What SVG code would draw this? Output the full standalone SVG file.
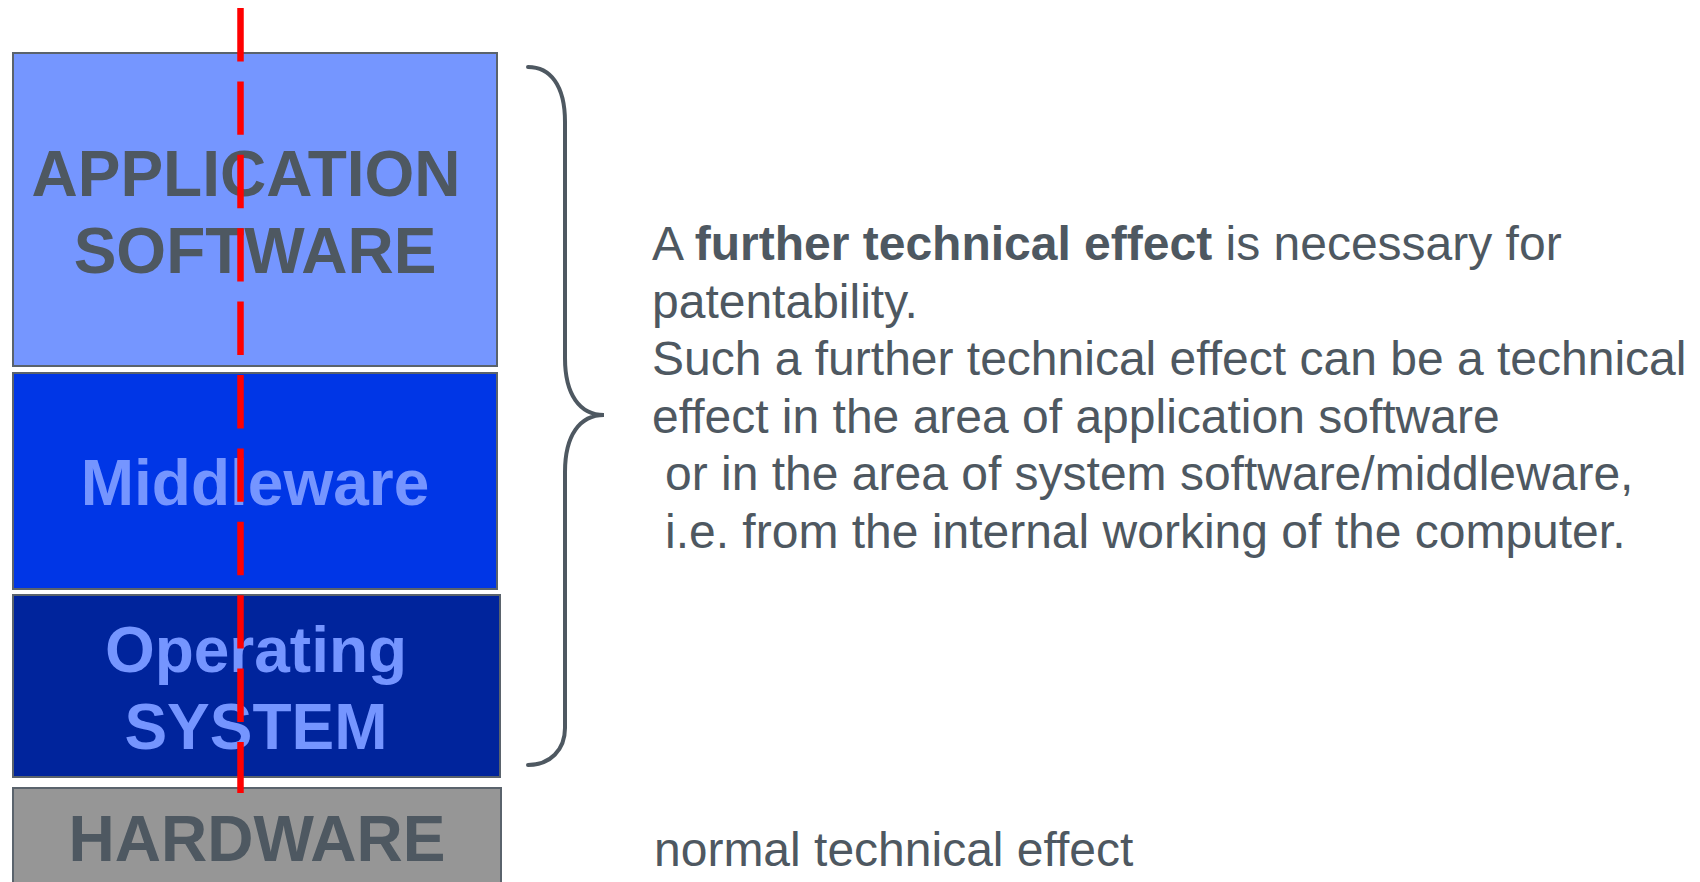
<svg xmlns="http://www.w3.org/2000/svg" width="1700" height="882" viewBox="0 0 1700 882">
<style>
.box{stroke:#5a636c;stroke-width:2}
.lbl{font-family:"Liberation Sans",Arial,Helvetica,sans-serif;font-weight:bold;font-size:64px;text-anchor:middle}
.dark{fill:#4e5861}
.light{fill:#7595ff}
.body{font-family:"Liberation Sans",Arial,Helvetica,sans-serif;font-size:48px;fill:#4e5861}
</style>
<rect width="1700" height="882" fill="#ffffff"/>
<g id="app">
<rect class="box" x="13" y="53" width="484" height="313" fill="#7596ff"/>
<text class="lbl dark" x="246" y="196">APPLICATION</text>
<text class="lbl dark" x="255" y="273">SOFTWARE</text>
</g>
<g id="middleware">
<rect class="box" x="13" y="373" width="484" height="216" fill="#0036e6"/>
<text class="lbl light" x="255" y="505">Middleware</text>
</g>
<g id="os">
<rect class="box" x="13" y="595" width="487" height="182" fill="#00249c"/>
<text class="lbl light" x="256" y="672">Operating</text>
<text class="lbl light" x="256" y="749">SYSTEM</text>
</g>
<g id="hardware">
<rect class="box" x="13" y="788" width="488" height="110" fill="#969696"/>
<text class="lbl dark" x="257" y="861">HARDWARE</text>
</g>
<g id="connectors">
<line x1="240.5" y1="8" x2="240.5" y2="793" stroke="#ff0000" stroke-width="6.5" stroke-dasharray="53.4 20"/>
<path d="M528,67 C550,67 565,85 565,122 L565,358 C565,395 580,415 604,415 C580,415 565,435 565,472 L565,728 C565,750 550,765 528,765" fill="none" stroke="#4e5861" stroke-width="4" stroke-linecap="round"/>
</g>
<g id="text">
<text class="body" x="652" y="260">A <tspan font-weight="bold">further technical effect</tspan> is necessary for</text>
<text class="body" x="652" y="317.5">patentability.</text>
<text class="body" x="652" y="375">Such a further technical effect can be a technical</text>
<text class="body" x="652" y="432.5">effect in the area of application software</text>
<text class="body" x="665" y="490">or in the area of system software/middleware,</text>
<text class="body" x="665" y="547.5">i.e. from the internal working of the computer.</text>
<text class="body" x="654" y="866">normal technical effect</text>
</g>
</svg>
